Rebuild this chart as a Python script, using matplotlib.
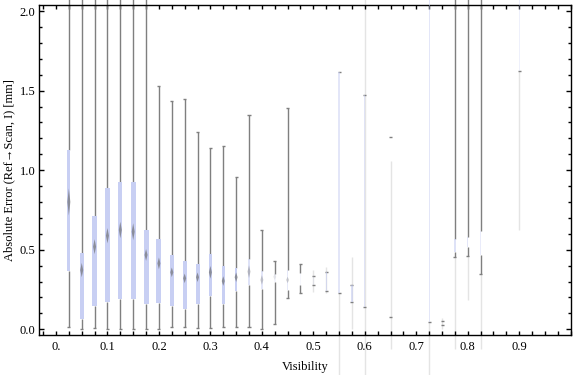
import numpy as np
import matplotlib
matplotlib.use("Agg")
import matplotlib.pyplot as plt
from matplotlib.ticker import MultipleLocator, FixedLocator

plt.rcParams["font.family"] = ["Liberation Serif", "DejaVu Serif"]

nan = np.nan

# visibility bins (box centres)
pos = [0.025, 0.05, 0.075, 0.1, 0.125, 0.15, 0.175, 0.2, 0.225, 0.25,
       0.275, 0.3, 0.325, 0.35, 0.375, 0.4, 0.425, 0.45, 0.475, 0.5,
       0.525, 0.55, 0.575, 0.6, 0.65, 0.725, 0.75, 0.775, 0.8, 0.825, 0.9]

# box-whisker statistics (mm)
lo = [0.012, 0.0, 0.006, 0.0, 0.0, 0.004, 0.004, 0.004, 0.012, 0.012,
      0.006, 0.006, 0.012, 0.012, 0.016, 0.0, 0.035, 0.195, 0.226, 0.276,
      0.241, 0.226, 0.17, 0.138, 0.075, 0.044, 0.027, 0.452, 0.46, 0.347, 1.622]
q1 = [0.368, 0.063, 0.148, 0.174, 0.192, 0.192, 0.161, 0.167, 0.148, 0.126,
      0.161, 0.211, 0.161, 0.243, 0.28, 0.251, 0.30, 0.247, 0.28, 0.276,
      0.241, 0.226, 0.17, 0.138, 0.075, 0.044, 0.027, 0.487, 0.519, 0.467, 1.622]
med = [0.80, 0.372, 0.519, 0.588, 0.624, 0.613, 0.467, 0.414, 0.358, 0.320,
       0.327, 0.358, 0.303, 0.327, 0.362, 0.31, 0.33, 0.31, nan, nan,
       nan, nan, nan, nan, nan, nan, nan, nan, nan, nan, nan]
q3 = [1.126, 0.477, 0.712, 0.888, 0.925, 0.925, 0.622, 0.567, 0.467, 0.427,
      0.41, 0.475, 0.40, 0.387, 0.442, 0.368, 0.35, 0.373, 0.353, 0.337,
      0.358, 1.62, 0.276, 1.47, 1.208, 2.3, 0.054, 0.567, 0.582, 0.62, 2.3]
hi = [2.3, 2.3, 2.3, 2.3, 2.3, 2.3, 2.3, 1.53, 1.432, 1.445,
      1.237, 1.137, 1.15, 0.955, 1.346, 0.622, 0.431, 1.388, 0.41, 0.337,
      0.358, 1.62, 0.276, 1.47, 1.208, 2.3, 0.054, 2.3, 2.3, 2.3, 2.3]
# median notch half-height
notch = [0.085, 0.045, 0.047, 0.048, 0.052, 0.053, 0.037, 0.037, 0.03, 0.03,
         0.03, 0.04, 0.03, 0.03, 0.04, 0.03, 0.02, 0.02, nan, nan,
         nan, nan, nan, nan, nan, nan, nan, nan, nan, nan, nan]
# faint extra whisker range
ext_lo = [nan] * 19 + [0.236, 0.226, -0.3, 0.0, -0.3, -0.124, -0.3, 0.0,
                       -0.124, 0.184, -0.124, 0.624]
ext_hi = [nan] * 19 + [0.373, 0.39, 0.226, 0.452, 2.3, 1.055, 0.044, 0.07,
                       0.452, 0.46, 0.347, 1.622]

# styling per box
box_px = [3, 4.3, 5, 5.7, 4.3, 4.7, 5, 5, 3.7, 4.3, 4, 3, 2.5, 2.3, 2, 1.8,
          1.8, 1.3, 1.3, 1.3, 1.3, 1.3, 1.3, 1.3, 1.3, 1.3, 1.3, 1.3, 1.3, 1.3, 1.3]
box_alpha = [1] * 14 + [0.6, 0.5, 0.2, 0.45, 0.15, 0.15, 0.6, 0.5, 0.6, 0.5,
                        0.0, 0.5, 0.0, 0.6, 0.5, 0.4, 0.3]

BOX_COLOR = "#c8cff3"
WHISKER_COLOR = "#7f7f7f"
EXT_COLOR = "#e4e4e4"

fig = plt.figure(figsize=(5.76, 3.75), dpi=100)
ax = fig.add_axes([0.0677, 0.1067, 0.9231, 0.8808])
px = 1.0 / 514  # data units per pixel along x

for i, x in enumerate(pos):
    if not np.isnan(ext_lo[i]):
        ax.vlines(x, ext_lo[i], ext_hi[i], color=EXT_COLOR, lw=1.0,
                  zorder=1, clip_on=False)
    # whiskers
    ax.vlines(x, lo[i], q1[i], color=WHISKER_COLOR, lw=1.0, zorder=2, clip_on=False)
    ax.vlines(x, q3[i], hi[i], color=WHISKER_COLOR, lw=1.0, zorder=2, clip_on=False)
    ax.hlines([lo[i], hi[i]], x - 1.5 * px, x + 1.5 * px, color=WHISKER_COLOR,
              lw=1.0, zorder=2, clip_on=False)
    # box
    if box_alpha[i] > 0:
        ax.bar(x, q3[i] - q1[i], bottom=q1[i], width=box_px[i] * px,
               color=BOX_COLOR, alpha=box_alpha[i], lw=0, zorder=3, clip_on=False)
    # median marker
    if not np.isnan(med[i]):
        w = 1.5 * px
        ax.fill([x, x + w, x, x - w], [med[i] + notch[i], med[i], med[i] - notch[i], med[i]],
                color="#6a6a6a", alpha=0.65 * box_alpha[i], lw=0, zorder=4)

ax.set_xlim(-0.033, 1.0)
ax.set_ylim(-0.036, 2.04)

ax.xaxis.set_major_locator(FixedLocator([0, 0.1, 0.2, 0.3, 0.4, 0.5, 0.6, 0.7, 0.8, 0.9]))
ax.xaxis.set_minor_locator(MultipleLocator(0.025))
ax.set_xticklabels(["0.", "0.1", "0.2", "0.3", "0.4", "0.5", "0.6", "0.7", "0.8", "0.9"])
ax.yaxis.set_major_locator(MultipleLocator(0.5))
ax.yaxis.set_minor_locator(MultipleLocator(0.1))
ax.yaxis.set_major_formatter(matplotlib.ticker.FormatStrFormatter("%.1f"))

ax.tick_params(which="both", direction="in", top=True, right=True, width=1.0,
               labelsize=9, color="black")
ax.tick_params(axis="x", which="both", length=3.2, pad=4)
ax.tick_params(axis="y", which="major", length=3.8, pad=2.5)
ax.tick_params(axis="y", which="minor", length=2.0)
for s in ax.spines.values():
    s.set_linewidth(1.0)

ax.set_xlabel("Visibility", fontsize=9, labelpad=6)
ax.set_ylabel("Absolute Error (Ref\u2192Scan, I) [mm]", fontsize=9, labelpad=3)

fig.savefig("out.png", dpi=100)
